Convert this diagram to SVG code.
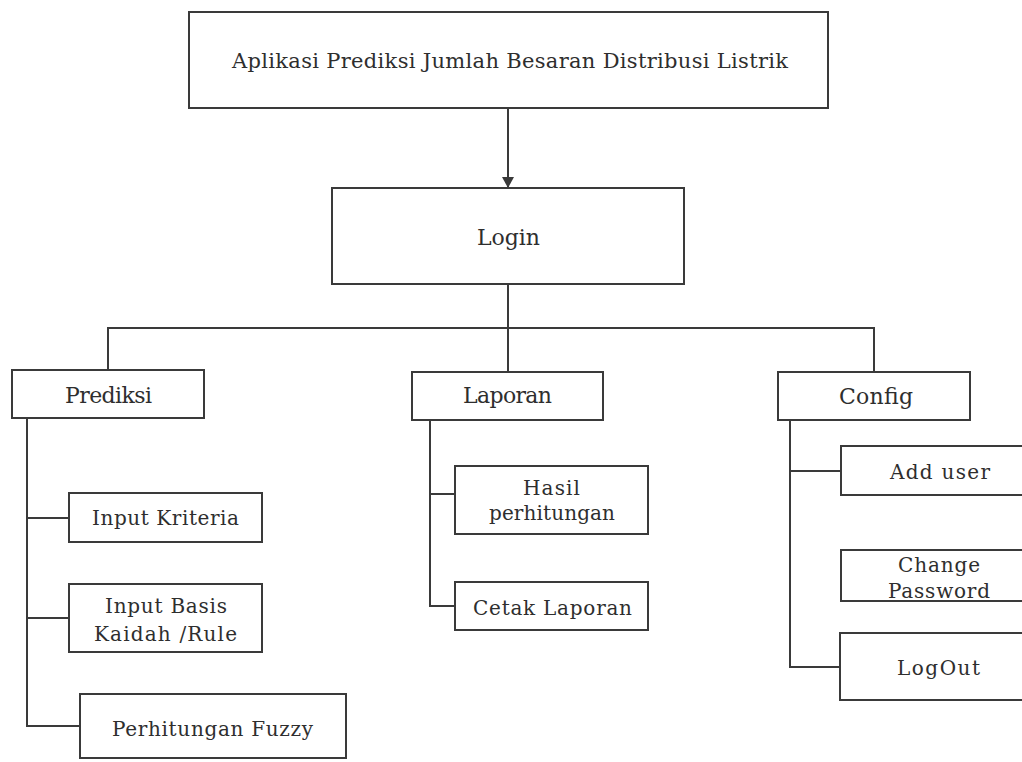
<svg xmlns="http://www.w3.org/2000/svg" width="1022" height="762" viewBox="0 0 1022 762">
<defs>
<style>
.box{fill:#fff;stroke:#3a3a3a;stroke-width:2}
.ln{fill:none;stroke:#3a3a3a;stroke-width:2}
.t{font-family:"DejaVu Serif","Liberation Serif",serif;fill:#2e2e2e;text-anchor:middle}
.big{font-size:21px}
.m{font-size:22px}
.s{font-size:20px}
</style>
<marker id="ah" markerWidth="12" markerHeight="12" refX="10" refY="6" orient="auto" markerUnits="userSpaceOnUse">
<path d="M0,0 L11,6 L0,12 z" fill="#3a3a3a"/>
</marker>
</defs>
<rect width="1022" height="762" fill="#fff"/>
<g id="connectors">
<path class="ln" d="M508,108 V187" marker-end="url(#ah)"/>
<path class="ln" d="M508,284 V372"/>
<path class="ln" d="M108,370 V328 H874 V372"/>
<path class="ln" d="M27,418 V726 H80 M27,518 H69 M27,618 H69"/>
<path class="ln" d="M430,420 V606 H455 M430,494 H455"/>
<path class="ln" d="M790,420 V667 H840 M790,471 H841"/>
</g>
<g id="n-app"><rect class="box" x="189" y="12" width="639" height="96"/><text class="t big" x="510" y="68" textLength="556">Aplikasi Prediksi Jumlah Besaran Distribusi Listrik</text></g>
<g id="n-login"><rect class="box" x="332" y="188" width="352" height="96"/><text class="t m" x="508.5" y="245" textLength="63">Login</text></g>
<g id="n-prediksi"><rect class="box" x="12" y="370" width="192" height="48"/><text class="t m" x="108.5" y="403" textLength="87">Prediksi</text></g>
<g id="n-laporan"><rect class="box" x="412" y="372" width="191" height="48"/><text class="t m" x="507.5" y="403" textLength="89">Laporan</text></g>
<g id="n-config"><rect class="box" x="778" y="372" width="192" height="48"/><text class="t m" x="876" y="404" textLength="74">Config</text></g>
<g id="n-input-kriteria"><rect class="box" x="69" y="493" width="193" height="49"/><text class="t s" x="165.5" y="525" textLength="147">Input Kriteria</text></g>
<g id="n-input-basis"><rect class="box" x="69" y="584" width="193" height="68"/><text class="t s" x="166" y="613" textLength="122">Input Basis</text><text class="t s" x="165.5" y="641" textLength="143">Kaidah /Rule</text></g>
<g id="n-perhitungan-fuzzy"><rect class="box" x="80" y="694" width="266" height="64"/><text class="t s" x="212.5" y="736" textLength="201">Perhitungan Fuzzy</text></g>
<g id="n-hasil"><rect class="box" x="455" y="466" width="193" height="68"/><text class="t s" x="551.5" y="495" textLength="57">Hasil</text><text class="t s" x="552" y="520" textLength="126">perhitungan</text></g>
<g id="n-cetak"><rect class="box" x="455" y="582" width="193" height="48"/><text class="t s" x="552.5" y="615" textLength="159">Cetak Laporan</text></g>
<g id="n-add-user"><rect class="box" x="841" y="446" width="200" height="49"/><text class="t s" x="940" y="479" textLength="100">Add user</text></g>
<g id="n-change-password"><rect class="box" x="841" y="550" width="200" height="51"/><text class="t s" x="939" y="572" textLength="82">Change</text><text class="t s" x="939" y="598" textLength="102">Password</text></g>
<g id="n-logout"><rect class="box" x="840" y="633" width="200" height="67"/><text class="t s" x="938.5" y="675" textLength="83">LogOut</text></g>
</svg>
